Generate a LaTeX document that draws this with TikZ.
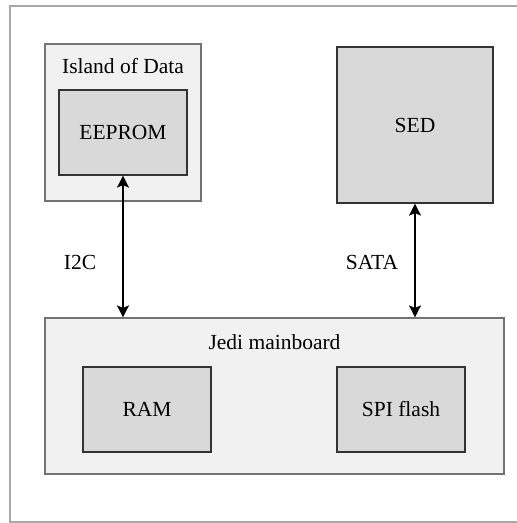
\documentclass[tikz,border=0pt]{standalone}
\usepackage{fontspec}
\setmainfont{Liberation Serif}
\usetikzlibrary{arrows.meta}
\definecolor{framegray}{HTML}{A8A8A8}
\definecolor{outerfill}{HTML}{F1F1F1}
\definecolor{innerfill}{HTML}{D9D9D9}
\begin{document}
\begin{tikzpicture}[x = 1pt, y = -1pt,
  every node/.style = {font = \fontsize{21.5}{25}\selectfont},
  outerbox/.style = {draw = black!55, line width = 1.2pt, fill = outerfill, inner sep = 0pt},
  innerbox/.style = {draw = black!80, line width = 1.2pt, fill = innerfill, inner sep = 0pt},
  bus/.style = {{Stealth[length=12pt,width=12pt,inset=2.5pt]}-{Stealth[length=12pt,width=12pt,inset=2.5pt]}, line width = 1.5pt}]
\useasboundingbox (0, 0) rectangle (517, 523);
\draw[framegray, line width = 1.4pt] (10, 530) |- (530, 6);
\draw[framegray, line width = 1.4pt] (10, 522) -- (530, 522);

\node[outerbox, minimum width = 156pt, minimum height = 157pt] (island) at (123, 122.5) {};
\node (islandlbl) at (123, 66) {Island of Data};
\node[innerbox, minimum width = 128pt, minimum height = 85pt] (eeprom) at (123, 132.5) {EEPROM};
\node[innerbox, minimum width = 156pt, minimum height = 156pt] (sed) at (415, 125) {SED};

\node[outerbox, minimum width = 459pt, minimum height = 156pt] (board) at (274.5, 396) {};
\node (boardlbl) at (274.5, 342) {Jedi mainboard};
\node[innerbox, minimum width = 128pt, minimum height = 85pt] (ram) at (147, 409.5) {RAM};
\node[innerbox, minimum width = 128pt, minimum height = 85pt] (spi) at (401, 409.5) {SPI flash};

\node (i2c) at (80, 262) {I2C};
\node (sata) at (372, 262) {SATA};

\draw[bus] (eeprom) -- (eeprom |- board.north);
\draw[bus] (sed) -- (sed |- board.north);

\end{tikzpicture}
\end{document}
